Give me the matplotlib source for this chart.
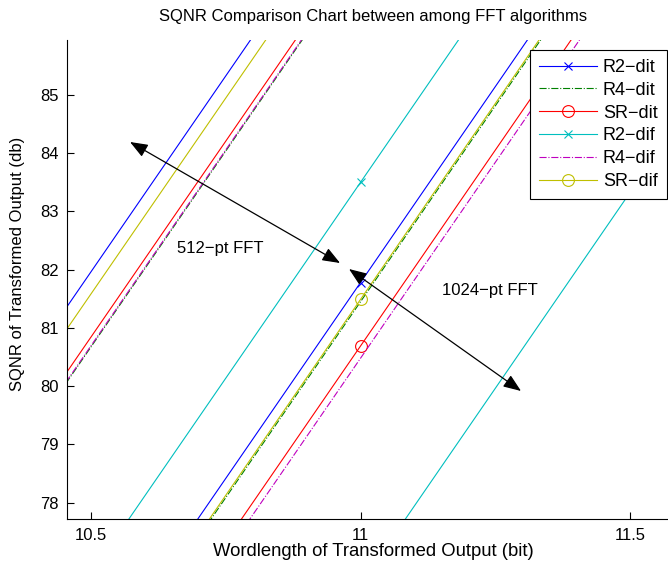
import matplotlib as mpl
mpl.use('Agg')
import matplotlib.pyplot as plt

# data (SQNR in dB at wordlengths 10, 11, 12 bit)
wordlength = [10, 11, 12]

r2dit_512 = [75.24, 88.69, 102.14]
r2dit_1024 = [68.33, 81.78, 95.23]
r4dit_512 = [73.95, 87.40, 100.85]
r4dit_1024 = [68.00, 81.45, 94.90]
srdit_512 = [74.12, 87.57, 101.02]
srdit_1024 = [67.24, 80.69, 94.14]
r2dif_512 = [70.05, 83.50, 96.95]
r2dif_1024 = [63.15, 76.60, 90.05]
r4dif_512 = [73.97, 87.42, 100.87]
r4dif_1024 = [67.03, 80.48, 93.93]
srdif_512 = [74.86, 88.31, 101.76]
srdif_1024 = [68.04, 81.49, 94.94]

labels = ['R2\u2212dit', 'R4\u2212dit', 'SR\u2212dit', 'R2\u2212dif', 'R4\u2212dif', 'SR\u2212dif']

# arrows (512 / 1024 annotations) in data coordinates
arrow512 = [(10.5724, 84.193), (10.962, 82.115)]
arrow1024 = [(10.9787, 82.012), (11.2978, 79.918)]
text512 = (10.739, 82.37, '512\u2212pt FFT')
text1024 = (11.240, 81.635, '1024\u2212pt FFT')

plt.rcParams['font.family'] = ['Liberation Sans', 'DejaVu Sans']
plt.rcParams['font.size'] = 12

fig = plt.figure(figsize=(6.68, 5.71), dpi=100)
W, H = 668.0, 571.0
# the axes run a little past the right edge of the picture (cropped figure)
ax = fig.add_axes([67.3 / W, (H - 519.3) / H, (679 - 67.3) / W, (519.3 - 40) / H])

styles = [
    dict(color=(0, 0, 1), ls='-', marker='x'),
    dict(color=(0, 0.5, 0), ls='-.', marker=None),
    dict(color=(1, 0, 0), ls='-', marker='o', mfc='none'),
    dict(color=(0, 0.75, 0.75), ls='-', marker='x'),
    dict(color=(0.75, 0, 0.75), ls='-.', marker=None),
    dict(color=(0.75, 0.75, 0), ls='-', marker='o', mfc='none'),
]
pairs = [(r2dit_512, r2dit_1024), (r4dit_512, r4dit_1024), (srdit_512, srdit_1024),
         (r2dif_512, r2dif_1024), (r4dif_512, r4dif_1024), (srdif_512, srdif_1024)]

handles = []
for (a, b), st, lab in zip(pairs, styles, labels):
    ms = 8.5 if st['marker'] == 'o' else 6
    h, = ax.plot(wordlength, b, lw=0.8, ms=ms, mew=0.8, label=lab, **st)
    ax.plot(wordlength, a, lw=0.8, ms=ms, mew=0.8, **st)
    handles.append(h)

for (p, q) in [arrow512, arrow1024]:
    ax.annotate('', xy=q, xytext=p,
                arrowprops=dict(arrowstyle='<|-|>,head_length=0.9,head_width=0.35',
                                color='black', lw=0.9, shrinkA=0, shrinkB=0))
ax.text(text512[0], text512[1], text512[2], ha='center', va='center', fontsize=12)
ax.text(text1024[0], text1024[1], text1024[2], ha='center', va='center', fontsize=12)

ax.set_xlim(10.456, 11.5909)
ax.set_ylim(77.715, 85.944)
ax.set_xticks([10.5, 11, 11.5])
ax.set_xticklabels(['10.5', '11', '11.5'])
ax.set_yticks([78, 79, 80, 81, 82, 83, 84, 85])
ax.tick_params(direction='in', length=5, width=0.8, labelsize=12, pad=6)
ax.spines['top'].set_visible(False)
ax.spines['right'].set_visible(False)

ax.set_title('SQNR Comparison Chart between among FFT algorithms', fontsize=12, pad=14)
ax.set_xlabel('Wordlength of Transformed Output (bit)', fontsize=13.3)
ax.xaxis.set_label_coords(0.5, -0.05)
ax.set_ylabel('SQNR of Transformed Output (db)', fontsize=12)
ax.yaxis.set_label_coords(-0.069, 0.533)

leg = ax.legend(handles=handles, loc='upper right', bbox_to_anchor=(666.5 / W, 1 - 50 / H),
                bbox_transform=fig.transFigure, borderaxespad=0, handlelength=3.2,
                fontsize=13, fancybox=False, edgecolor='black', framealpha=1,
                labelspacing=0.32, borderpad=0.5, handletextpad=0.33)
leg.get_frame().set_linewidth(0.8)

fig.savefig('out.png', dpi=100)
